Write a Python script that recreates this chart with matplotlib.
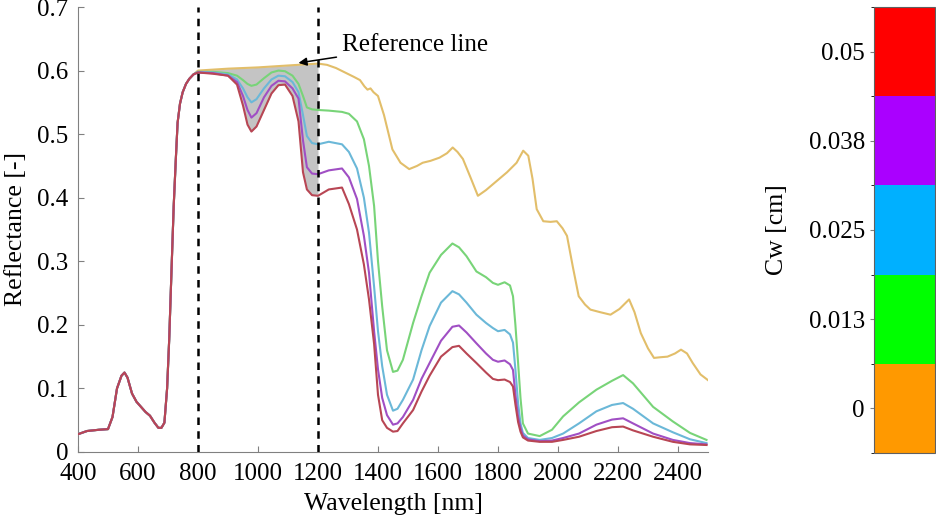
import numpy as np
import matplotlib
matplotlib.use("Agg")
import matplotlib.pyplot as plt
from matplotlib.colors import ListedColormap, BoundaryNorm
from matplotlib.cm import ScalarMappable

plt.rcParams['font.family'] = ['Liberation Serif', 'DejaVu Serif']

# shared visible / red-edge part (all Cw values coincide here)
wl_vis = [400, 430, 470, 500, 515, 530, 545, 555, 565, 580, 595, 610, 625, 640, 655,
          668, 678, 688, 697, 704, 712, 719, 726, 732, 740, 749, 760, 771, 785]
r_vis = [0.028, 0.033, 0.035, 0.036, 0.055, 0.100, 0.120, 0.125, 0.117, 0.092, 0.079,
         0.071, 0.063, 0.057, 0.046, 0.038, 0.038, 0.046, 0.100, 0.177, 0.290, 0.387,
         0.460, 0.518, 0.548, 0.566, 0.579, 0.587, 0.594]

# Cw = 0 (no water)
wl_dry = [800, 900, 1000, 1100, 1200, 1230, 1260, 1290, 1320, 1340, 1355, 1365, 1375,
          1385, 1400, 1420, 1448, 1475, 1504, 1530, 1549, 1575, 1605, 1630, 1649, 1665,
          1683, 1710, 1733, 1760, 1795, 1830, 1862, 1884, 1901, 1915, 1929, 1951, 1975,
          1996, 2015, 2030, 2050, 2069, 2090, 2108, 2140, 2175, 2205, 2237, 2255, 2276,
          2300, 2320, 2340, 2365, 2390, 2410, 2430, 2449, 2475, 2500]
r_cw000 = [0.600, 0.603, 0.605, 0.608, 0.611, 0.609, 0.604, 0.597, 0.590, 0.585, 0.575,
           0.570, 0.572, 0.566, 0.560, 0.530, 0.476, 0.455, 0.445, 0.450, 0.455, 0.458,
           0.463, 0.470, 0.479, 0.472, 0.461, 0.430, 0.403, 0.412, 0.426, 0.440, 0.455,
           0.474, 0.466, 0.430, 0.382, 0.363, 0.362, 0.363, 0.352, 0.340, 0.290, 0.245,
           0.232, 0.224, 0.220, 0.216, 0.225, 0.240, 0.220, 0.187, 0.163, 0.148, 0.149,
           0.150, 0.155, 0.161, 0.155, 0.140, 0.122, 0.113]

# Cw > 0, common wavelength grid from 800 nm
wl_wet = [800, 850, 900, 930, 950, 965, 978, 995, 1020, 1045, 1068, 1090, 1115, 1135,
          1150, 1163, 1180, 1200, 1236, 1280, 1303, 1330, 1353, 1370, 1387, 1400, 1414,
          1430, 1450, 1465, 1483, 1517, 1545, 1572, 1610, 1648, 1670, 1695, 1728, 1760,
          1783, 1800, 1822, 1840, 1850, 1858, 1867, 1875, 1883, 1900, 1939, 1980, 2017,
          2070, 2128, 2180, 2217, 2250, 2317, 2383, 2440, 2495]
r_cw013 = [0.598, 0.598, 0.596, 0.592, 0.585, 0.579, 0.576, 0.578, 0.588, 0.597, 0.600,
           0.599, 0.592, 0.579, 0.560, 0.542, 0.539, 0.538, 0.537, 0.535, 0.532, 0.520,
           0.492, 0.450, 0.387, 0.300, 0.229, 0.160, 0.126, 0.128, 0.145, 0.203, 0.245,
           0.282, 0.310, 0.328, 0.322, 0.308, 0.284, 0.275, 0.266, 0.263, 0.267, 0.262,
           0.245, 0.200, 0.140, 0.085, 0.045, 0.029, 0.025, 0.035, 0.056, 0.078, 0.098,
           0.112, 0.121, 0.108, 0.071, 0.048, 0.030, 0.019]
r_cw025 = [0.598, 0.597, 0.594, 0.586, 0.572, 0.558, 0.550, 0.555, 0.572, 0.586, 0.592,
           0.591, 0.582, 0.566, 0.530, 0.497, 0.486, 0.484, 0.488, 0.484, 0.472, 0.446,
           0.400, 0.345, 0.260, 0.190, 0.135, 0.090, 0.065, 0.068, 0.082, 0.114, 0.160,
           0.198, 0.235, 0.253, 0.248, 0.235, 0.216, 0.203, 0.195, 0.190, 0.192, 0.185,
           0.172, 0.130, 0.077, 0.045, 0.030, 0.022, 0.019, 0.022, 0.029, 0.045, 0.064,
           0.074, 0.077, 0.068, 0.045, 0.031, 0.020, 0.014]
r_cw038 = [0.597, 0.596, 0.592, 0.582, 0.560, 0.538, 0.526, 0.533, 0.558, 0.576, 0.584,
           0.583, 0.572, 0.556, 0.490, 0.448, 0.438, 0.437, 0.443, 0.446, 0.432, 0.398,
           0.340, 0.282, 0.190, 0.130, 0.085, 0.058, 0.043, 0.045, 0.055, 0.082, 0.115,
           0.140, 0.175, 0.197, 0.199, 0.188, 0.171, 0.155, 0.145, 0.142, 0.144, 0.138,
           0.129, 0.090, 0.055, 0.038, 0.026, 0.020, 0.017, 0.018, 0.022, 0.029, 0.043,
           0.051, 0.053, 0.045, 0.029, 0.019, 0.014, 0.012]
r_cw050 = [0.597, 0.595, 0.592, 0.578, 0.545, 0.515, 0.504, 0.512, 0.538, 0.564, 0.577,
           0.578, 0.560, 0.520, 0.440, 0.413, 0.404, 0.403, 0.413, 0.416, 0.390, 0.350,
           0.295, 0.240, 0.170, 0.090, 0.050, 0.038, 0.032, 0.033, 0.045, 0.066, 0.095,
           0.120, 0.150, 0.165, 0.167, 0.155, 0.140, 0.125, 0.115, 0.113, 0.114, 0.110,
           0.103, 0.075, 0.047, 0.032, 0.023, 0.018, 0.016, 0.016, 0.019, 0.024, 0.033,
           0.039, 0.040, 0.034, 0.024, 0.016, 0.012, 0.011]

cw_labels = ['0', '0.013', '0.025', '0.038', '0.05']
line_colors = ['#E2BE6A', '#78D478', '#6BB8D8', '#A04FC4', '#B84654']
bar_colors = ['#FF9900', '#00FF00', '#00B0FF', '#AA00FF', '#FF0000']
band_edges = [800, 1200]

fig = plt.figure(figsize=(9.36, 5.22), dpi=100)
ax = fig.add_axes([78 / 936, 70 / 522, 630 / 936, 445 / 522])

# gray area between the reference line (dry spectrum) and the wettest spectrum
sel = [i for i, w in enumerate(wl_wet) if band_edges[0] <= w <= band_edges[1]]
xf = np.array(wl_wet)[sel]
ax.fill_between(xf, np.interp(xf, wl_dry, r_cw000), np.array(r_cw050)[sel],
                color='#C4C4C4', lw=0, zorder=1)

series = [(wl_dry, r_cw000), (wl_wet, r_cw013), (wl_wet, r_cw025),
          (wl_wet, r_cw038), (wl_wet, r_cw050)]
for (wl, r), c in zip(series, line_colors):
    ax.plot(wl_vis + wl, r_vis + r, color=c, lw=1.5, zorder=3)

for x in band_edges:
    ax.axvline(x, color='black', ls=(0, (3, 2.5)), lw=1.8, zorder=4)

ax.annotate('Reference line', xy=(1135, 0.612), xytext=(1280, 0.640),
            fontsize=18, va='center', ha='left',
            arrowprops=dict(arrowstyle='-|>', color='black', lw=1.1,
                            mutation_scale=12, shrinkA=2, shrinkB=0))

ax.set_xlim(400, 2500)
ax.set_ylim(0, 0.7)
ax.set_xticks(np.arange(400, 2401, 200))
ax.set_yticks(np.arange(0, 0.71, 0.1))
ax.set_yticklabels(['0', '0.1', '0.2', '0.3', '0.4', '0.5', '0.6', '0.7'])
ax.tick_params(direction='in', length=4, color='#808080', labelsize=18)
ax.tick_params(axis='x', pad=8)
ax.tick_params(axis='y', pad=7)
for s in ['top', 'right']:
    ax.spines[s].set_visible(False)
for s in ['left', 'bottom']:
    ax.spines[s].set_color('#808080')
ax.set_xlabel('Wavelength [nm]', fontsize=18.5, labelpad=6)
ax.set_ylabel('Reflectance [-]', fontsize=18.5, labelpad=7)

# discrete colour bar
cax = fig.add_axes([874 / 936, 69 / 522, 61 / 936, 446 / 522])
cmap = ListedColormap(bar_colors)
norm = BoundaryNorm(np.arange(6), cmap.N)
cb = fig.colorbar(ScalarMappable(norm=norm, cmap=cmap), cax=cax,
                  ticks=np.arange(5) + 0.5)
cb.set_ticklabels(cw_labels)
cax.yaxis.set_ticks_position('left')
cax.tick_params(labelsize=18, length=3, width=0.8, color='#808080')
cb.outline.set_linewidth(0.8)
cb.outline.set_edgecolor('#606060')
fig.text(777 / 936, 1 - 230 / 522, 'Cw [cm]', rotation=90, fontsize=18.5,
         ha='center', va='center')

fig.savefig('out.png', dpi=100)
